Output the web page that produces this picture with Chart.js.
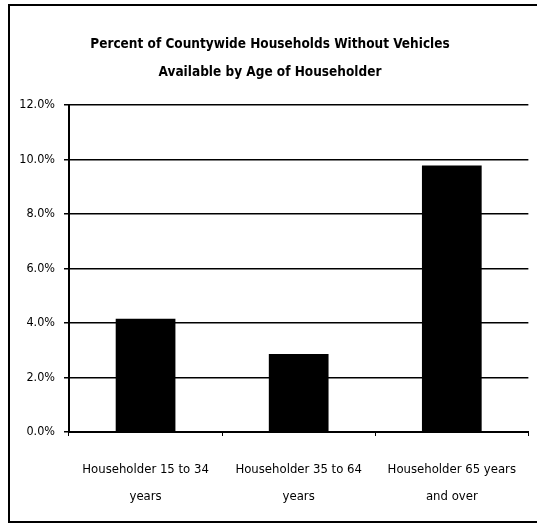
<!DOCTYPE html>
<html>
<head>
<meta charset="utf-8">
<script src="https://cdn.jsdelivr.net/npm/chart.js@4.4.1/dist/chart.umd.min.js"></script>
<style>
html,body{margin:0;padding:0;background:#fff;}
#wrap{width:537px;height:525px;position:relative;}
</style>
</head>
<body>
<div id="wrap"><canvas id="c" width="537" height="525"></canvas></div>
<script>
const titleLines = ["Percent of Countywide Households Without Vehicles", "Available by Age of Householder"];
const categories = [["Householder 15 to 34", "years"], ["Householder 35 to 64", "years"], ["Householder 65 years", "and over"]];
const values = [4.15, 2.86, 9.78];
const yTicks = [0, 2, 4, 6, 8, 10, 12];

const FONT = "'Liberation Sans Narrow', 'Arial Narrow', 'DejaVu Sans Condensed', sans-serif";

const borderPlugin = {
  id: 'frame',
  beforeDraw(chart) {
    const ctx = chart.ctx;
    ctx.save();
    ctx.fillStyle = '#fff';
    ctx.fillRect(0, 0, chart.width, chart.height);
    ctx.strokeStyle = '#000';
    ctx.lineWidth = 2;
    ctx.strokeRect(9, 5, 540, 517);
    ctx.restore();
  }
};

new Chart(document.getElementById('c'), {
  type: 'bar',
  data: {
    labels: categories,
    datasets: [{
      data: values,
      backgroundColor: '#000',
      borderWidth: 0,
      barPercentage: 0.39,
      categoryPercentage: 1.0
    }]
  },
  options: {
    responsive: false,
    animation: false,
    devicePixelRatio: 1,
    layout: { padding: { left: 9, right: 6, top: 0, bottom: 3 } },
    plugins: {
      legend: { display: false },
      tooltip: { enabled: false },
      title: {
        display: true,
        text: titleLines,
        color: '#000',
        font: { family: FONT, size: 13.5, weight: 'bold', lineHeight: 2.07 },
        padding: { top: 31, bottom: 18 }
      }
    },
    scales: {
      x: {
        offset: true,
        grid: { display: true, offset: true, drawOnChartArea: false, color: '#000', tickLength: 4, lineWidth: 1 },
        border: { display: true, color: '#000', width: 2 },
        ticks: {
          color: '#000',
          font: { family: FONT, size: 13, lineHeight: 2.1 },
          padding: 20,
          maxRotation: 0,
          autoSkip: false
        },
        afterFit(scale) { scale.height = 90; }
      },
      y: {
        min: 0,
        max: 12,
        afterBuildTicks(scale) { scale.ticks = yTicks.map(v => ({ value: v })); },
        grid: { color: '#000', lineWidth: 1.5, tickLength: 5 },
        border: { display: true, color: '#000', width: 2 },
        ticks: {
          color: '#000',
          font: { family: FONT, size: 12.5 },
          padding: 9,
          callback: v => v.toFixed(1) + '%'
        },
        afterFit(scale) { scale.width = 60; }
      }
    }
  },
  plugins: [borderPlugin]
});
</script>
</body>
</html>
